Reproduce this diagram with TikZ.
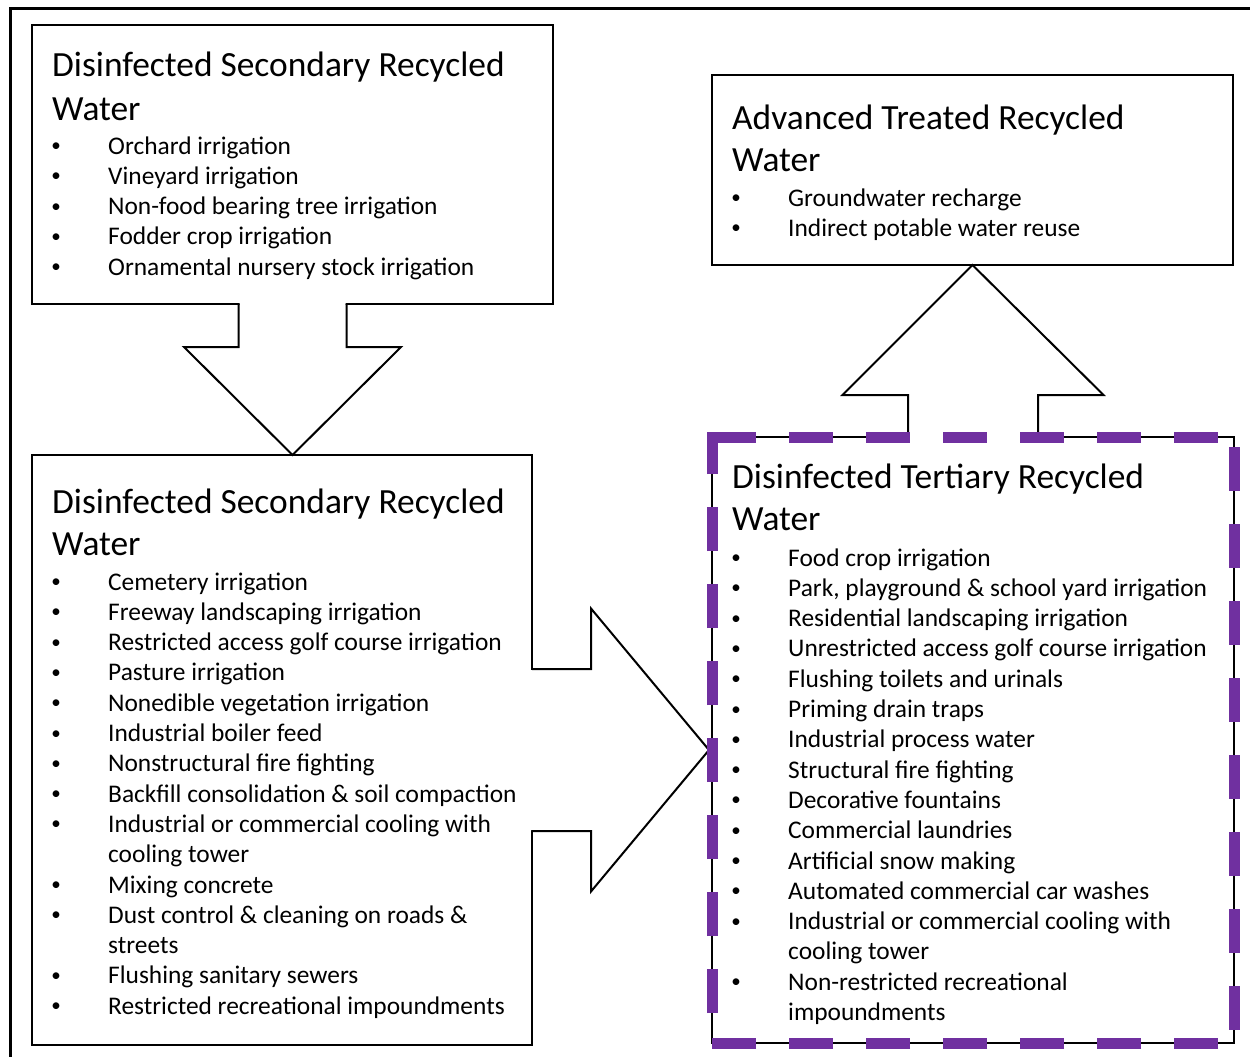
\documentclass[tikz,border=0pt]{standalone}
\usepackage{fontspec}
\setmainfont{Carlito}
\usetikzlibrary{calc}
\definecolor{purp}{RGB}{112,48,160}
\newcommand\mylist[5]{%
  \foreach \bb/\txt [count=\i] in {#5}{%
    \node[itm] (#1-\i) at (#2, #4+30.3*\i-30.3) {\txt};
    \ifnum\bb=1 \node[bul] (#1b-\i) at (#3, #4+30.3*\i-30.3) {\raisebox{2.5pt}{•}};\fi
  }}
\begin{document}
\begin{tikzpicture}[x=1pt,y=-1pt,
  box/.style={draw=black, line width=2pt, fill=white, inner sep=0pt, outer sep=0pt, anchor=north west},
  ttl/.style={anchor=base west, inner sep=0pt, font=\fontsize{35.4}{42}\selectfont},
  itm/.style={anchor=base west, inner sep=0pt, font=\fontsize{25.4}{30}\selectfont},
  bul/.style={anchor=base, inner sep=0pt, font=\fontsize{19}{22}\selectfont},
  arrline/.style={draw=black, line width=2pt, line join=miter},
  arrfill/.style={fill=white, draw=none},
  pdash/.style={draw=purp, line width=11pt, dash pattern=on 44pt off 33pt},
  frame/.style={draw=black, line width=3pt}
]
\useasboundingbox[fill=white] (0,0) rectangle (1250,1057);
\draw[frame] (10,1070) -- (10,9) -- (1270,9);

% boxes
\node[box, minimum width=521pt, minimum height=279pt] (b1) at (32,25) {};
\node[box, minimum width=500pt, minimum height=590pt] (b2) at (32,455) {};
\node[box, minimum width=521pt, minimum height=190pt] (b3) at (712,75) {};
\node[box, minimum width=522pt, minimum height=606pt, line width=1.6pt] (b4) at (712,437) {};

% down arrow b1 -> b2
\coordinate (d0) at (b1.south);
\coordinate (dt) at (b1.south |- b2.north);
\fill[arrfill] ($(d0)+(-53,-2)$) -- ($(d0)+(-53,43)$) -- ($(d0)+(-108.5,43)$) -- (dt) -- ($(d0)+(108.5,43)$) -- ($(d0)+(53,43)$) -- ($(d0)+(53,-2)$) -- cycle;
\draw[arrline] (d0) ++(-54,0) -- ++(0,43) -- ++(-54.5,0) -- (dt) -- ($(d0)+(108.5,43)$) -- ++(-54.5,0) -- ++(0,-43);

% right arrow b2 -> b4
\coordinate (r0) at (b2.east);
\coordinate (rt) at ($(b4.west |- b2.east)+(-3,0)$);
\fill[arrfill] ($(r0)+(-2,-80)$) -- ($(r0)+(59,-80)$) -- ($(r0)+(59,-141.5)$) -- (rt) -- ($(r0)+(59,141.5)$) -- ($(r0)+(59,80)$) -- ($(r0)+(-2,80)$) -- cycle;
\draw[arrline] ($(r0)+(0,-81)$) -- ++(59,0) -- ++(0,-60.5) -- (rt) -- ($(r0)+(59,141.5)$) -- ++(0,-60.5) -- ++(-59,0);

% up arrow b4 -> b3
\coordinate (u0) at (b4.north);
\coordinate (ut) at (b3.south);
\fill[arrfill] ($(u0)+(-64,2)$) -- ($(u0)+(-64,-42)$) -- ($(u0)+(-130.5,-42)$) -- (ut) -- ($(u0)+(130.5,-42)$) -- ($(u0)+(64,-42)$) -- ($(u0)+(64,2)$) -- cycle;
\draw[arrline] (u0) ++(-65,0) -- ++(0,-42) -- ++(-65.5,0) -- (ut) -- ($(u0)+(130.5,-42)$) -- ++(-65.5,0) -- ++(0,42);

% purple dashed border of b4
\draw[pdash] (b4.north west) -- (b4.north east);
\draw[pdash, dash phase=67pt] (b4.north east) -- (b4.south east);
\draw[pdash, dash phase=61pt] (b4.south east) -- (b4.south west);
\draw[pdash, dash phase=47pt] (b4.south west) -- ($(b4.north west)+(0,-5.5)$);

% texts box 1
\node[ttl] (t1a) at (52,77) {Disinfected Secondary Recycled};
\node[ttl] (t1b) at (52,120) {Water};
\mylist{s1}{108}{56}{154}{1/Orchard irrigation, 1/Vineyard irrigation, 1/Non-food bearing tree irrigation, 1/Fodder crop irrigation, 1/Ornamental nursery stock irrigation}

% texts box 2
\node[ttl] (t2a) at (52,513) {Disinfected Secondary Recycled};
\node[ttl] (t2b) at (52,555) {Water};
\mylist{s2}{108}{56}{590}{1/Cemetery irrigation, 1/Freeway landscaping irrigation, 1/Restricted access golf course irrigation, 1/Pasture irrigation, 1/Nonedible vegetation irrigation, 1/Industrial boiler feed, 1/Nonstructural fire fighting, 1/Backfill consolidation \& soil compaction, 1/Industrial or commercial cooling with, 0/cooling tower, 1/Mixing concrete, 1/Dust control \& cleaning on roads \&, 0/streets, 1/Flushing sanitary sewers, 1/Restricted recreational impoundments}

% texts box 3
\node[ttl] (t3a) at (732,129) {Advanced Treated Recycled};
\node[ttl] (t3b) at (732,171) {Water};
\mylist{s3}{788}{736}{206}{1/Groundwater recharge, 1/Indirect potable water reuse}

% texts box 4
\node[ttl] (t4a) at (732,488) {Disinfected Tertiary Recycled};
\node[ttl] (t4b) at (732,530) {Water};
\mylist{s4}{788}{736}{566}{1/Food crop irrigation, 1/{Park, playground \& school yard irrigation}, 1/Residential landscaping irrigation, 1/Unrestricted access golf course irrigation, 1/Flushing toilets and urinals, 1/Priming drain traps, 1/Industrial process water, 1/Structural fire fighting, 1/Decorative fountains, 1/Commercial laundries, 1/Artificial snow making, 1/Automated commercial car washes, 1/Industrial or commercial cooling with, 0/cooling tower, 1/Non-restricted recreational, 0/impoundments}
\end{tikzpicture}
\end{document}
